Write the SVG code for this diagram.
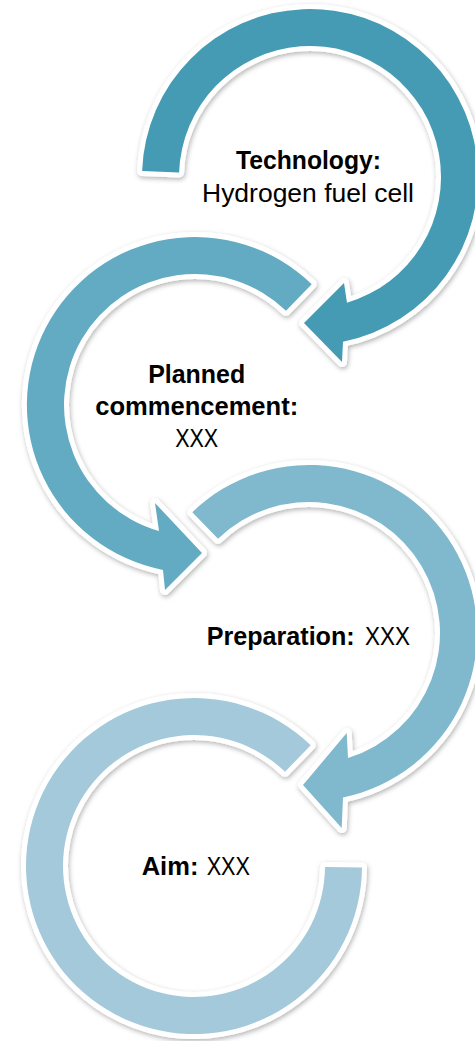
<svg xmlns="http://www.w3.org/2000/svg" width="475" height="1041" viewBox="0 0 475 1041">
  <defs>
    <filter id="sh" x="-20%" y="-20%" width="140%" height="140%">
      <feDropShadow dx="1" dy="2" stdDeviation="2.5" flood-color="#000" flood-opacity="0.3"/>
    </filter>
    <style>
      .arr { stroke: #ffffff; stroke-width: 10; stroke-linejoin: round; paint-order: stroke fill; filter: url(#sh); }
      .t { font-family: "Liberation Sans", Arial, sans-serif; font-size: 25px; fill: #000000; }
      .b { font-weight: bold; }
    </style>
  </defs>
  <rect width="475" height="1041" fill="#ffffff"/>
  <g id="connectors">
    <path id="arrow4" class="arr" fill="#a3c9da" d="M310.7,745.2 A168,168 0 1 0 362,867.5 L325,867.1 A131,131 0 1 1 285,771.8 Z"/>
    <path id="arrow3" class="arr" fill="#80b8cd" d="M192.3,512.2 A168,168 0 1 1 343,797.5 L341.7,828 L303,785 L346.7,733 L348,758.1 A131,131 0 1 0 218,538.8 Z"/>
    <path id="arrow2" class="arr" fill="#62abc3" d="M311.7,284.2 A168,168 0 1 0 163,569.9 L165,590 L202,553 L155,503 L159,531 A131,131 0 1 1 286,310.8 Z"/>
    <path id="arrow1" class="arr" fill="#459bb3" d="M142.1,171.1 A168,168 0 1 1 343,341.7 L342,362 L304,323 L344,283 L347,302.7 A131,131 0 1 0 179.1,172.4 Z"/>
  </g>
  <g id="node1">
    <text class="t b" x="308.5" y="169" text-anchor="middle" textLength="145" lengthAdjust="spacingAndGlyphs">Technology:</text>
    <text class="t" x="308" y="202" text-anchor="middle" textLength="212" lengthAdjust="spacingAndGlyphs">Hydrogen fuel cell</text>
  </g>
  <g id="node2">
    <text class="t b" x="196.7" y="383" text-anchor="middle" textLength="97" lengthAdjust="spacingAndGlyphs">Planned</text>
    <text class="t b" x="196.7" y="415" text-anchor="middle" textLength="203" lengthAdjust="spacingAndGlyphs">commencement:</text>
    <text class="t" x="196.7" y="447" text-anchor="middle" textLength="43" lengthAdjust="spacingAndGlyphs">XXX</text>
  </g>
  <g id="node3">
    <text class="t b" x="206.7" y="645" textLength="148" lengthAdjust="spacingAndGlyphs">Preparation:</text>
    <text class="t" x="365" y="645" textLength="45" lengthAdjust="spacingAndGlyphs">XXX</text>
  </g>
  <g id="node4">
    <text class="t b" x="141.7" y="875" textLength="56.7" lengthAdjust="spacingAndGlyphs">Aim:</text>
    <text class="t" x="206.7" y="875" textLength="43.3" lengthAdjust="spacingAndGlyphs">XXX</text>
  </g>
</svg>
